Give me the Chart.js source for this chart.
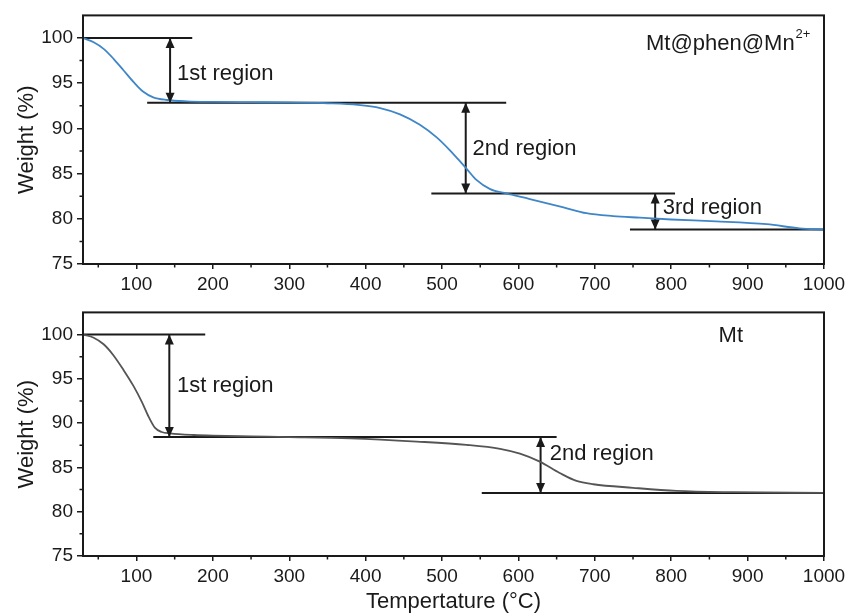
<!DOCTYPE html>
<html>
<head>
<meta charset="utf-8">
<script src="https://cdn.jsdelivr.net/npm/chart.js@4.4.0/dist/chart.umd.min.js"></script>
<style>
  html, body { margin: 0; padding: 0; background: #fff; }
  .panel { position: absolute; left: 0; width: 851px; }
  #top { top: 0; height: 297px; }
  #bottom { top: 297px; height: 318px; }
</style>
</head>
<body>
<div class="panel" id="top"><canvas id="chartTop"></canvas></div>
<div class="panel" id="bottom"><canvas id="chartBottom"></canvas></div>
<script>
// TGA curve of Mt@phen@Mn2+ : temperature (°C) and weight (%)
const tempMn = [30, 44, 57, 70, 83, 96, 109, 122, 140, 166, 200, 250, 300, 350, 390, 419, 445, 471, 493, 510, 523, 533, 545, 563, 584, 615, 659, 689, 724, 759, 800, 859, 925, 968, 1000];
const weightMn = [100, 99.53, 98.8, 97.7, 96.43, 95.15, 94.05, 93.43, 93.14, 92.99, 92.93, 92.9, 92.88, 92.78, 92.6, 92.25, 91.55, 90.4, 89.0, 87.6, 86.4, 85.45, 84.3, 83.28, 82.8, 82.19, 81.27, 80.62, 80.3, 80.12, 79.92, 79.72, 79.4, 78.95, 78.8];

// TGA curve of Mt
const tempMt = [30, 44, 57, 70, 83, 96, 107, 116, 124, 133, 144, 175, 200, 250, 300, 380, 467, 532, 576, 602, 628, 654, 676, 698, 750, 807, 880, 1000];
const weightMt = [100, 99.64, 98.9, 97.64, 96.0, 94.2, 92.4, 90.7, 89.5, 89.0, 88.85, 88.66, 88.58, 88.5, 88.43, 88.28, 87.92, 87.55, 87.1, 86.55, 85.65, 84.37, 83.47, 83.1, 82.7, 82.35, 82.2, 82.12];

// axis ticks
const xTicks = [100, 200, 300, 400, 500, 600, 700, 800, 900, 1000];
const xMinorTicks = [50, 150, 250, 350, 450, 550, 650, 750, 850, 950];
const yTicks = [75, 80, 85, 90, 95, 100];
const yMinorTicks = [77.5, 82.5, 87.5, 92.5, 97.5];

// plateau levels (weight, from temp, to temp) and the arrows between them
const levelsMn = [[100, 30, 173], [92.85, 114, 584], [82.8, 486, 805], [78.83, 746, 1000]];
const arrowsMn = [[144, 100, 92.85], [531, 92.85, 82.8], [779, 82.8, 78.83]];
const regionsMn = [[153, 96.06, '1st region'], [540, 87.78, '2nd region'], [789, 81.2, '3rd region']];

const levelsMt = [[100, 30, 190], [88.42, 122, 650], [82.12, 552, 1000]];
const arrowsMt = [[143, 100, 88.42], [629, 88.42, 82.12]];
const regionsMt = [[153, 94.2, '1st region'], [641, 86.55, '2nd region']];

const FONT = "'Liberation Sans', Arial, Helvetica, sans-serif";
const INK = '#1a1a1a';
Chart.defaults.font.family = FONT;
Chart.defaults.color = INK;

function points(xs, ys) {
    return xs.map((x, i) => ({ x: x, y: ys[i] }));
}

function drawHead(ctx, x, y, dir) {
    // dir -1 points up, 1 points down; tip sits on (x, y)
    ctx.beginPath();
    ctx.moveTo(x, y);
    ctx.lineTo(x - 4.5, y - dir * 10);
    ctx.lineTo(x + 4.5, y - dir * 10);
    ctx.closePath();
    ctx.fill();
}

// frame, minor ticks, arrow heads and texts
function decorations(regions, sample) {
    return {
        id: 'decorations',
        afterDatasetsDraw(chart) {
            const { ctx, chartArea: a, scales: { x, y } } = chart;
            ctx.save();
            ctx.strokeStyle = INK;
            ctx.lineWidth = 2;
            ctx.strokeRect(a.left, a.top, a.right - a.left, a.bottom - a.top);

            ctx.lineWidth = 1.5;
            ctx.beginPath();
            xMinorTicks.forEach(v => {
                const px = x.getPixelForValue(v);
                ctx.moveTo(px, a.bottom);
                ctx.lineTo(px, a.bottom + 3.5);
            });
            yMinorTicks.forEach(v => {
                const py = y.getPixelForValue(v);
                ctx.moveTo(a.left, py);
                ctx.lineTo(a.left - 3.5, py);
            });
            ctx.stroke();

            ctx.fillStyle = INK;
            chart.data.datasets.forEach((ds, i) => {
                if (!ds.arrow) return;
                const pts = chart.getDatasetMeta(i).data;
                const p0 = pts[0], p1 = pts[1];
                const dir = p1.y > p0.y ? 1 : -1;
                drawHead(ctx, p0.x, p0.y, -dir);
                drawHead(ctx, p1.x, p1.y, dir);
            });

            ctx.font = '22px ' + FONT;
            ctx.textBaseline = 'middle';
            ctx.textAlign = 'left';
            regions.forEach(r => {
                ctx.fillText(r[2], x.getPixelForValue(r[0]), y.getPixelForValue(r[1]));
            });

            const sx = x.getPixelForValue(sample.x);
            const sy = y.getPixelForValue(sample.y);
            ctx.fillText(sample.text, sx, sy);
            if (sample.sup) {
                const w = ctx.measureText(sample.text).width;
                ctx.font = '13px ' + FONT;
                ctx.fillText(sample.sup, sx + w + 1, sy - 10);
            }
            ctx.restore();
        }
    };
}

function makeChart(id, opts) {
    const datasets = [{
        data: points(opts.temps, opts.weights),
        borderColor: opts.color,
        borderWidth: 1.8,
        pointRadius: 0,
        cubicInterpolationMode: 'monotone',
        fill: false
    }];
    opts.levels.forEach(l => {
        datasets.push({
            data: [{ x: l[1], y: l[0] }, { x: l[2], y: l[0] }],
            borderColor: INK, borderWidth: 2, pointRadius: 0, tension: 0
        });
    });
    opts.arrows.forEach(ar => {
        datasets.push({
            arrow: true,
            data: [{ x: ar[0], y: ar[1] }, { x: ar[0], y: ar[2] }],
            borderColor: INK, borderWidth: 2, pointRadius: 0, tension: 0
        });
    });

    return new Chart(document.getElementById(id), {
        type: 'line',
        data: { datasets: datasets },
        options: {
            responsive: true,
            maintainAspectRatio: false,
            animation: false,
            layout: { padding: { top: opts.padTop, right: 27, left: 0, bottom: 0 } },
            plugins: { legend: { display: false }, tooltip: { enabled: false } },
            scales: {
                x: {
                    type: 'linear',
                    min: 30,
                    max: 1000,
                    afterBuildTicks: s => { s.ticks = xTicks.map(v => ({ value: v })); },
                    afterFit: s => { s.height = opts.xHeight; },
                    grid: { drawOnChartArea: false, tickLength: 5, color: INK, lineWidth: 1.5 },
                    border: { display: false },
                    ticks: { font: { size: 19 }, color: INK, padding: 4, maxRotation: 0, callback: v => String(v) },
                    title: {
                        display: opts.xTitle,
                        text: 'Tempertature (°C)',
                        font: { size: 22 },
                        color: INK,
                        padding: { top: 0, bottom: 0 }
                    }
                },
                y: {
                    type: 'linear',
                    min: 75,
                    max: 102.5,
                    afterBuildTicks: s => { s.ticks = yTicks.map(v => ({ value: v })); },
                    afterFit: s => { s.width = 83; },
                    grid: { drawOnChartArea: false, tickLength: 6, color: INK, lineWidth: 1.5 },
                    border: { display: false },
                    ticks: { font: { size: 19 }, color: INK, padding: 4, callback: v => String(v) },
                    title: {
                        display: true,
                        text: 'Weight (%)',
                        font: { size: 22 },
                        color: INK,
                        padding: { top: 14, bottom: 0 }
                    }
                }
            }
        },
        plugins: [decorations(opts.regions, opts.sample)]
    });
}

makeChart('chartTop', {
    temps: tempMn, weights: weightMn, color: '#3f86c8',
    levels: levelsMn, arrows: arrowsMn, regions: regionsMn,
    sample: { x: 767, y: 99.3, text: 'Mt@phen@Mn', sup: '2+' },
    padTop: 13, xHeight: 33, xTitle: false
});

makeChart('chartBottom', {
    temps: tempMt, weights: weightMt, color: '#555555',
    levels: levelsMt, arrows: arrowsMt, regions: regionsMt,
    sample: { x: 862, y: 99.86, text: 'Mt', sup: '' },
    padTop: 7, xHeight: 59, xTitle: true
});
</script>
</body>
</html>
